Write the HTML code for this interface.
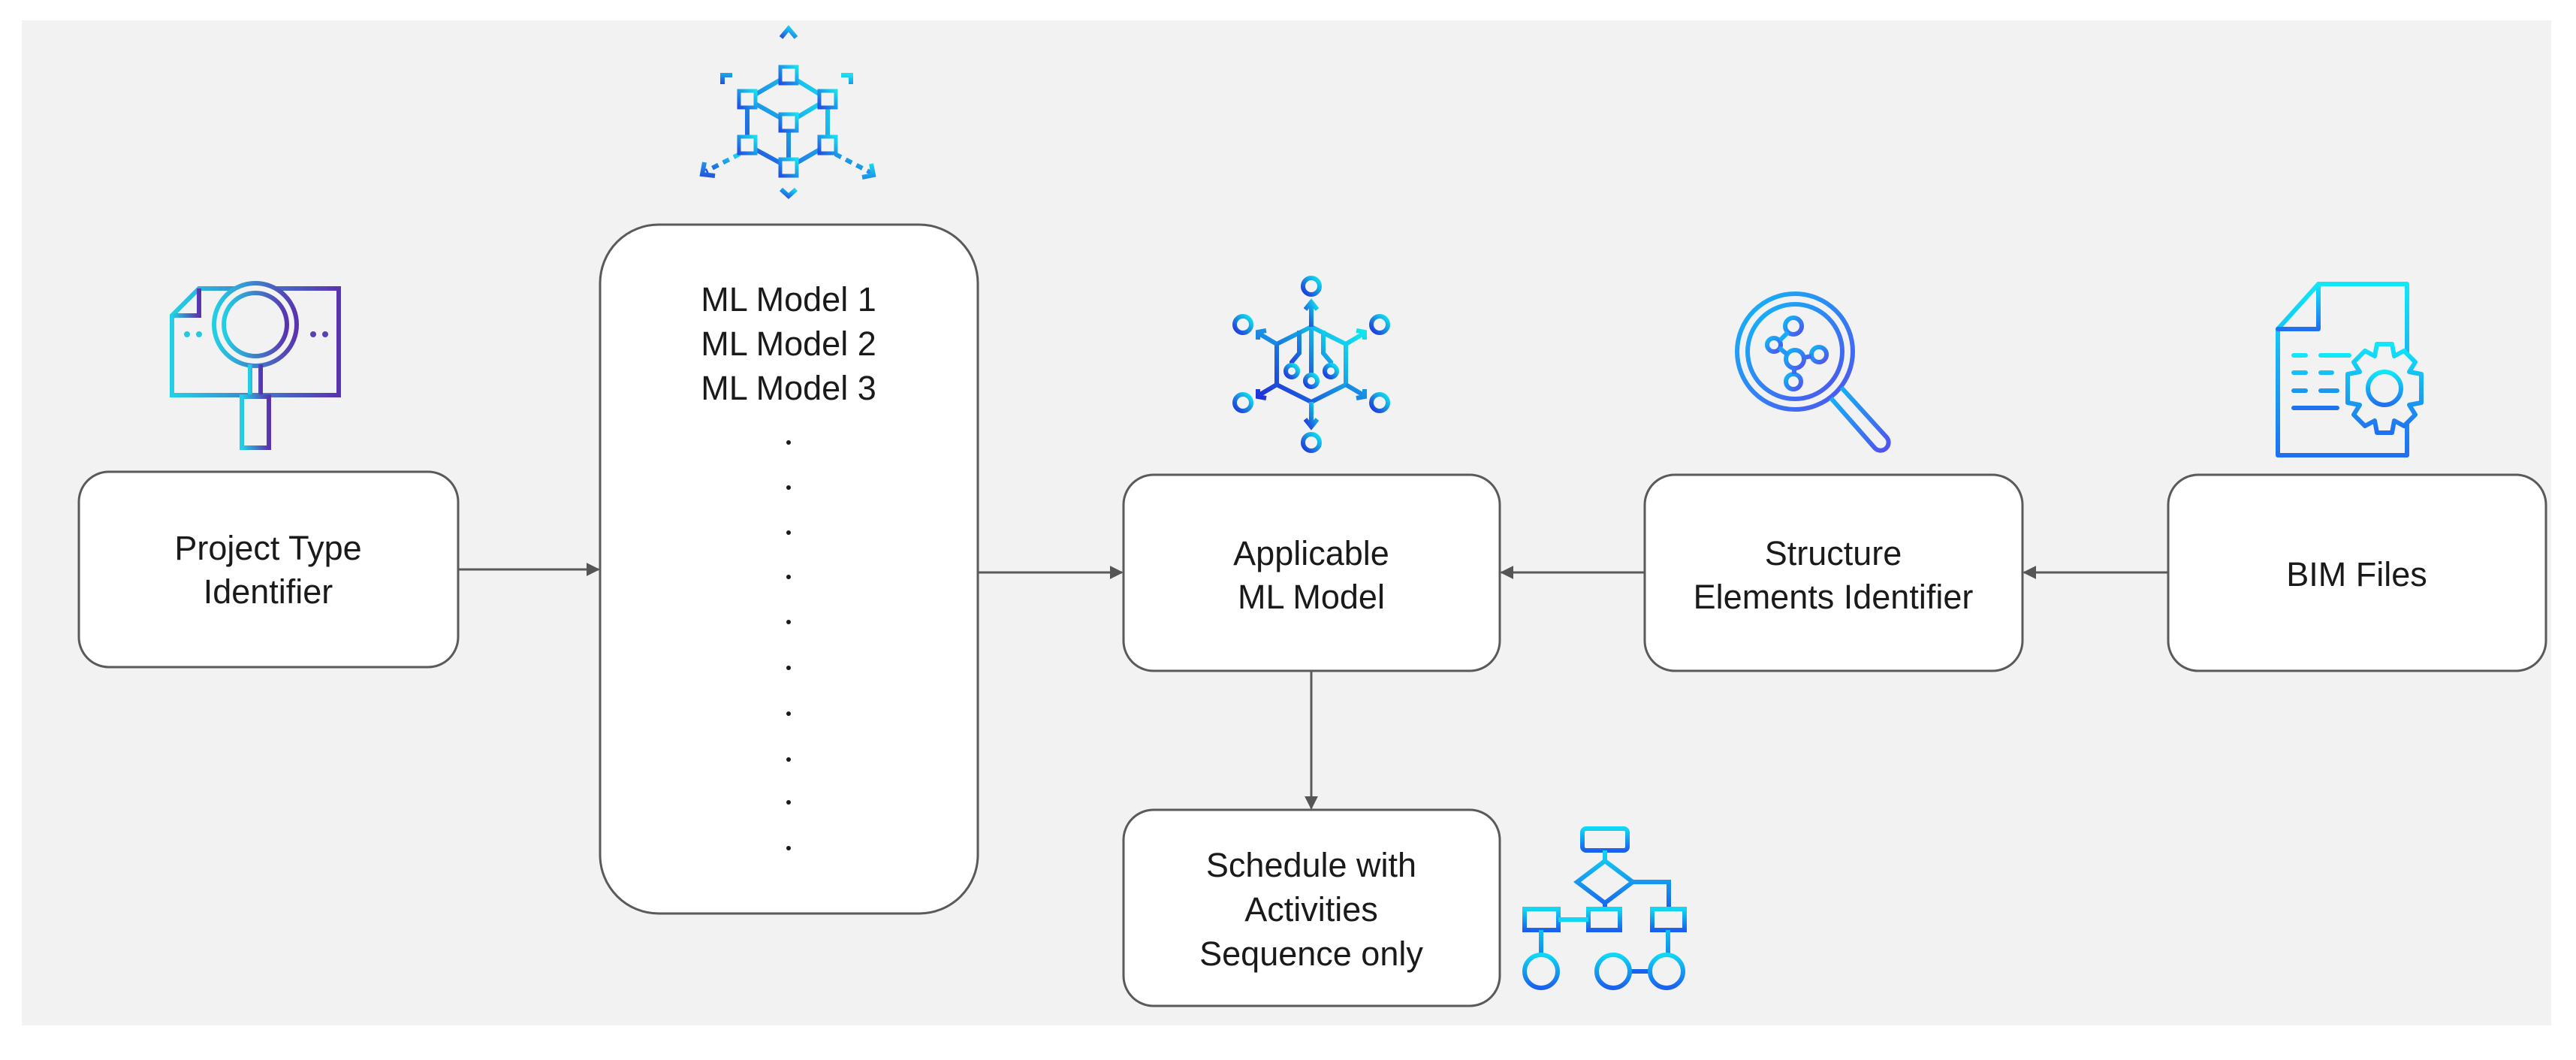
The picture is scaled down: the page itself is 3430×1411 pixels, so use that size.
<!DOCTYPE html>
<html><head><meta charset="utf-8"><style>
html,body{margin:0;padding:0;background:#fff;}
svg{display:block}
text{font-family:"Liberation Sans",sans-serif;fill:#1a1a1a;}
</style></head><body>
<svg width="3430" height="1411" viewBox="0 0 3430 1411" xmlns="http://www.w3.org/2000/svg">
<defs>
<linearGradient id="gPurp" x1="0" y1="0" x2="1" y2="0"><stop offset="0" stop-color="#22d0e6"/><stop offset="1" stop-color="#5a33b0"/></linearGradient>
<linearGradient id="gCube" x1="1" y1="0" x2="0" y2="1"><stop offset="0" stop-color="#17e0f0"/><stop offset="1" stop-color="#2250e0"/></linearGradient>
<linearGradient id="gNet" x1="1" y1="0" x2="0" y2="1"><stop offset="0" stop-color="#10e8f0"/><stop offset="1" stop-color="#2030d8"/></linearGradient>
<linearGradient id="gMag" x1="0" y1="0" x2="1" y2="1"><stop offset="0" stop-color="#10b8f8"/><stop offset="1" stop-color="#5050f0"/></linearGradient>
<linearGradient id="gDoc" x1="0" y1="0" x2="0" y2="1"><stop offset="0" stop-color="#10e8f8"/><stop offset="1" stop-color="#2070f0"/></linearGradient>
<linearGradient id="gFlow" x1="0" y1="0" x2="0" y2="1"><stop offset="0" stop-color="#10d8f4"/><stop offset="1" stop-color="#1a60ee"/></linearGradient>
<marker id="ah" viewBox="0 0 10 10" refX="9" refY="5" markerWidth="18" markerHeight="18" markerUnits="userSpaceOnUse" orient="auto"><path d="M0,0 L10,5 L0,10 z" fill="#555"/></marker>
</defs>
<rect x="0" y="0" width="3430" height="1411" fill="#fff"/>
<rect x="29" y="27" width="3368" height="1338" fill="#f2f2f2"/>

<g fill="#fff" stroke="#5a5a5a" stroke-width="3">
<rect x="105" y="628" width="505" height="260" rx="40"/>
<rect x="799" y="299" width="503" height="917" rx="78"/>
<rect x="1496" y="632" width="501" height="261" rx="40"/>
<rect x="2190" y="632" width="503" height="261" rx="40"/>
<rect x="2887" y="632" width="503" height="261" rx="40"/>
<rect x="1496" y="1078" width="501" height="261" rx="40"/>
</g>

<g stroke="#5a5a5a" stroke-width="3" fill="none">
<line x1="610" y1="758" x2="797" y2="758" marker-end="url(#ah)"/>
<line x1="1302" y1="762" x2="1494" y2="762" marker-end="url(#ah)"/>
<line x1="2190" y1="762" x2="1999" y2="762" marker-end="url(#ah)"/>
<line x1="2887" y1="762" x2="2695" y2="762" marker-end="url(#ah)"/>
<line x1="1746" y1="893" x2="1746" y2="1076" marker-end="url(#ah)"/>
</g>

<g font-size="45" text-anchor="middle">
<text x="357" y="745">Project Type</text>
<text x="357" y="803">Identifier</text>
<text x="1050" y="414">ML Model 1</text>
<text x="1050" y="473">ML Model 2</text>
<text x="1050" y="532">ML Model 3</text>
<text x="1746" y="752">Applicable</text>
<text x="1746" y="810">ML Model</text>
<text x="2441" y="752">Structure</text>
<text x="2441" y="810">Elements Identifier</text>
<text x="3138" y="780">BIM Files</text>
<text x="1746" y="1167">Schedule with</text>
<text x="1746" y="1226">Activities</text>
<text x="1746" y="1285">Sequence only</text>
</g>
<g fill="#1a1a1a">
<circle cx="1050" cy="589" r="3"/><circle cx="1050" cy="649" r="3"/><circle cx="1050" cy="709" r="3"/>
<circle cx="1050" cy="768" r="3"/><circle cx="1050" cy="828" r="3"/><circle cx="1050" cy="889" r="3"/>
<circle cx="1050" cy="950" r="3"/><circle cx="1050" cy="1011" r="3"/><circle cx="1050" cy="1068" r="3"/>
<circle cx="1050" cy="1129" r="3"/>
</g>

<g fill="none" stroke="url(#gPurp)" stroke-width="6">
<path d="M265,384 L451,384 L451,526 L229,526 L229,420 Z"/>
<path d="M265,384 L265,420 L229,420"/>
<circle cx="340" cy="432" r="55" fill="#f2f2f2"/>
<circle cx="340" cy="432" r="42"/>
<path d="M333,485 L333,528 M347,485 L347,528"/>
<rect x="322" y="528" width="36" height="68" fill="#f2f2f2"/>
<path d="M340,578 L340,596"/>
</g>
<g fill="#28c8e0"><circle cx="249" cy="445" r="4"/><circle cx="265" cy="445" r="4"/></g>
<g fill="#5a40b8"><circle cx="417" cy="445" r="4"/><circle cx="433" cy="445" r="4"/></g>

<g fill="none" stroke="url(#gCube)" stroke-width="6">
<path d="M1050,40 L1050,86" stroke-dasharray="10 7"/>
<path d="M1040,50 L1050,38 L1060,50"/>
<path d="M1050,100 L995,132 L995,193 L1050,223 L1102,193 L1102,132 Z"/>
<path d="M1050,163 L1050,223 M1050,163 L995,132 M1050,163 L1102,132"/>
<path d="M962,112 L962,100 L975,100 M1133,112 L1133,100 L1120,100"/>
<path d="M985,205 L940,228" stroke-dasharray="9 7"/>
<path d="M1112,205 L1160,230" stroke-dasharray="9 7"/>
<path d="M938,216 L935,232 L952,234 M1148,236 L1163,233 L1160,218"/>
<path d="M1040,252 L1050,261 L1060,252"/>
</g>
<g fill="#f2f2f2" stroke="url(#gCube)" stroke-width="5">
<rect x="1039" y="89" width="22" height="22"/><rect x="984" y="121" width="22" height="22"/>
<rect x="1091" y="121" width="22" height="22"/><rect x="1039" y="152" width="22" height="22"/>
<rect x="984" y="182" width="22" height="22"/><rect x="1091" y="182" width="22" height="22"/>
<rect x="1039" y="212" width="22" height="22"/>
</g>

<g fill="none" stroke="url(#gNet)" stroke-width="6">
<path d="M1746,435 L1700,458 L1700,512 L1746,535 L1792,512 L1792,458 Z"/>
<path d="M1746,435 L1746,500 M1730,440 L1730,470 L1720,482 L1720,487 M1762,440 L1762,470 L1772,482 L1772,487"/>
<circle cx="1746" cy="507" r="8"/><circle cx="1720" cy="494" r="8"/><circle cx="1772" cy="494" r="8"/>
<path d="M1746,435 L1746,405 M1738,412 L1746,402 L1754,412"/>
<path d="M1746,535 L1746,565 M1738,558 L1746,568 L1754,558"/>
<path d="M1700,458 L1678,445 M1700,512 L1678,525 M1792,458 L1814,445 M1792,512 L1814,525"/>
<path d="M1675,452 L1675,442 L1686,440 M1675,518 L1675,528 L1686,530 M1817,452 L1817,442 L1806,440 M1817,518 L1817,528 L1806,530"/>
<circle cx="1746" cy="381" r="11"/><circle cx="1746" cy="589" r="11"/>
<circle cx="1655" cy="432" r="11"/><circle cx="1837" cy="432" r="11"/>
<circle cx="1655" cy="536" r="11"/><circle cx="1837" cy="536" r="11"/>
</g>

<g fill="none" stroke="url(#gMag)" stroke-width="6">
<circle cx="2390" cy="468" r="77"/>
<circle cx="2390" cy="468" r="63"/>
<path d="M2452,516 L2512,582 a10,10 0 0 1 -16,14 L2438,530"/>
<circle cx="2388" cy="434" r="11"/><circle cx="2362" cy="459" r="9"/><circle cx="2390" cy="478" r="12"/>
<circle cx="2422" cy="472" r="10"/><circle cx="2388" cy="508" r="10"/>
<path d="M2381,442 L2370,453 M2369,463 L2380,472 M2402,476 L2412,474 M2389,490 L2389,498"/>
</g>

<g fill="none" stroke="url(#gDoc)" stroke-width="6" stroke-linejoin="round" stroke-linecap="round">
<path d="M3087,378 L3205,378 L3205,606 L3033,606 L3033,438 L3087,378 Z"/>
<path d="M3087,378 L3087,438 L3033,438"/>
<path d="M3054,473 L3070,473 M3090,473 L3128,473 M3054,496 L3070,496 M3090,496 L3105,496 M3054,520 L3070,520 M3090,520 L3112,520 M3054,543 L3112,543"/>
<path fill="#f2f2f2" d="M3165,458 L3185,458 L3188,474 L3201,467 L3216,482 L3208,495 L3224,498 L3224,536 L3208,539 L3216,552 L3201,567 L3188,560 L3185,576 L3165,576 L3162,560 L3149,567 L3134,552 L3142,539 L3126,536 L3126,498 L3142,495 L3134,482 L3149,467 L3162,474 Z"/>
<circle cx="3175" cy="517" r="22"/>
</g>

<g fill="none" stroke="url(#gFlow)" stroke-width="6">
<rect x="2107" y="1103" width="60" height="29" rx="5"/>
<path d="M2137,1132 L2137,1146 M2100,1174 L2137,1146 L2174,1174 L2137,1202 Z M2174,1174 L2222,1174 L2222,1210 M2137,1202 L2137,1210"/>
<rect x="2030" y="1210" width="45" height="28"/>
<rect x="2115" y="1210" width="42" height="28"/>
<rect x="2200" y="1210" width="43" height="28"/>
<path d="M2075,1224 L2115,1224 M2052,1238 L2052,1271 M2221,1238 L2221,1271 M2170,1293 L2197,1293"/>
<circle cx="2052" cy="1293" r="22"/><circle cx="2148" cy="1293" r="22"/><circle cx="2219" cy="1293" r="22"/>
</g>
</svg>
</body></html>
